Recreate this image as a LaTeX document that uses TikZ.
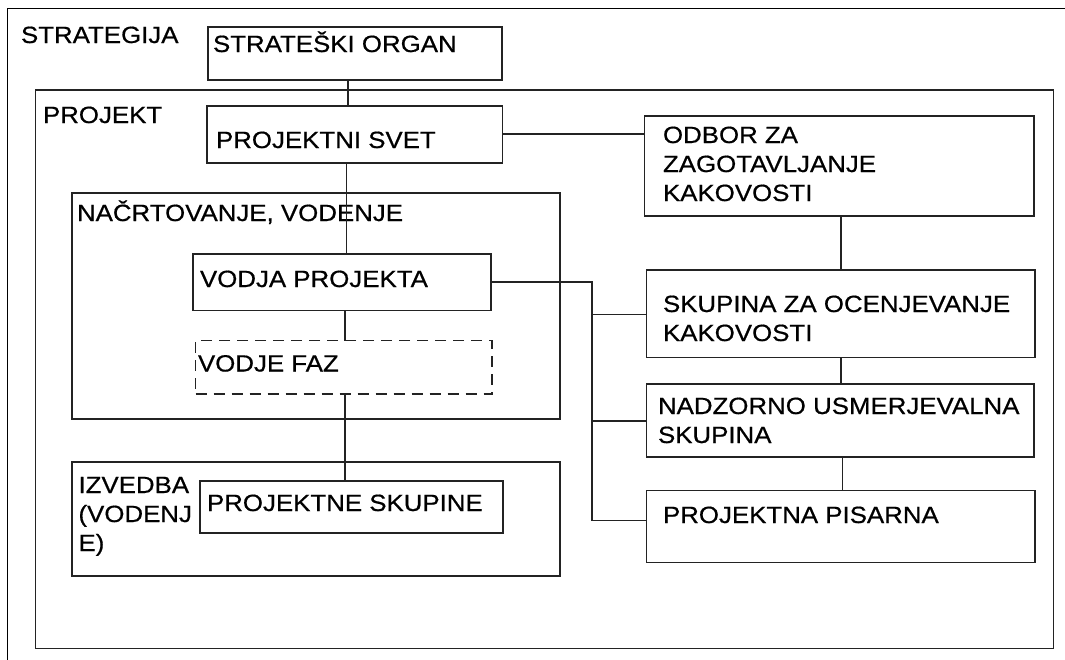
\documentclass[tikz,border=0pt]{standalone}
\usepackage{fontspec}
\newfontfamily\lbfont[FakeStretch=1.1,FakeBold=0.6]{Liberation Sans}
\newcommand\mlines[1]{\begin{tabular}[t]{@{}l@{}}#1\end{tabular}}
\newcommand\pbox[6][]{\node[box,#1,minimum width={(#5-#3)*1pt},minimum height={(#6-#4)*1pt}] (#2) at (#3,#4) {};}
\definecolor{ln}{RGB}{35,35,35}
\begin{document}
\begin{tikzpicture}[x=1pt,y=-1pt,
  box/.style={draw=ln,line width=1.4pt,inner sep=0pt,outer sep=0pt,anchor=north west},
  lbl/.style={inner sep=0pt,outer sep=0pt,anchor=base west,text=black,
     font=\lbfont\fontsize{23.5}{29}\selectfont},
  conn/.style={draw=ln,line width=1.4pt},
  dashbox/.style={box,dash pattern=on 11pt off 7pt}]
\useasboundingbox (0,0) rectangle (1065,659);
\clip (0,0) rectangle (1065,659);
\fill[white] (0,0) rectangle (1065,659);
% outer frame (extends past the picture)
\node[box,line width=1.7pt,draw=black,minimum width=1080pt,minimum height=680pt] (outer) at (7.5,8.5) {};
% project frame
\pbox{proj}{35.7}{90}{1053.5}{648.5}
% boxes
\pbox{so}{208}{27}{502}{80}
\draw[draw=ln,line width=2.8pt] (so.north west) -- (so.south west);
\draw[draw=ln,line width=2.8pt] (so.north east) -- (so.south east);
\pbox{ps}{207}{106}{502.5}{163}
\pbox{odb}{644.3}{116}{1034}{216}
\pbox{nacr}{71.8}{193}{560}{419}
\pbox{vp}{193}{254}{491}{310.5}
\pbox[dashbox]{vf}{195.5}{340.5}{492}{394}
\pbox{izv}{71.8}{462}{560}{576}
\pbox{psk}{200}{481}{503}{533}
\pbox{sk}{646.5}{270}{1035}{357.3}
\pbox{nad}{646.5}{384}{1034}{457}
\pbox{pis}{646.5}{490.7}{1035}{562.7}
% texts
\node[lbl] (t-strat) at (21,43) {STRATEGIJA};
\node[lbl] (t-so) at (213,52) {STRATEŠKI ORGAN};
\node[lbl] (t-proj) at (43,123) {PROJEKT};
\node[lbl] (t-ps) at (216,148) {PROJEKTNI SVET};
\node[lbl] (t-odb) at (663,143) {\mlines{ODBOR ZA\\ZAGOTAVLJANJE\\KAKOVOSTI}};
\node[lbl] (t-nacr) at (77,221) {NAČRTOVANJE, VODENJE};
\node[lbl] (t-vp) at (200,287) {VODJA PROJEKTA};
\node[lbl] (t-vf) at (198,371.5) {VODJE FAZ};
\node[lbl] (t-izv) at (78.5,493) {\mlines{IZVEDBA\\(VODENJ\\E)}};
\node[lbl] (t-psk) at (207,511) {PROJEKTNE SKUPINE};
\node[lbl] (t-sk) at (663,312) {\mlines{SKUPINA ZA OCENJEVANJE\\KAKOVOSTI}};
\node[lbl] (t-nad) at (658,414) {\mlines{NADZORNO USMERJEVALNA\\SKUPINA}};
\node[lbl] (t-pis) at (663,523) {PROJEKTNA PISARNA};
% connectors
\coordinate (c1) at (348,0);
\coordinate (c2) at (346.5,0);
\coordinate (c3) at (345,0);
\coordinate (c4) at (841,0);
\coordinate (c5) at (842.5,0);
\coordinate (h1) at (0,134);
\coordinate (bt) at (592,282);
\coordinate (b1) at (592,314.3);
\coordinate (b2) at (592,421);
\coordinate (b3) at (592,520.5);
\draw[conn] (so.south -| c1) -- (ps.north -| c1);
\draw[conn] (ps.south -| c2) -- (vp.north -| c2);
\draw[conn] (vp.south -| c3) -- (vf.north -| c3);
\draw[conn] (vf.south -| c3) -- (psk.north -| c3);
\draw[conn] (ps.east |- h1) -- (odb.west |- h1);
\draw[conn] (odb.south -| c4) -- (sk.north -| c4);
\draw[conn] (sk.south -| c4) -- (nad.north -| c4);
\draw[conn] (nad.south -| c5) -- (pis.north -| c5);
\draw[conn] (vp.east |- bt) -- (bt) -- (b3) -- (pis.west |- b3);
\draw[conn] (b1) -- (sk.west |- b1);
\draw[conn] (b2) -- (nad.west |- b2);
\end{tikzpicture}
\end{document}
